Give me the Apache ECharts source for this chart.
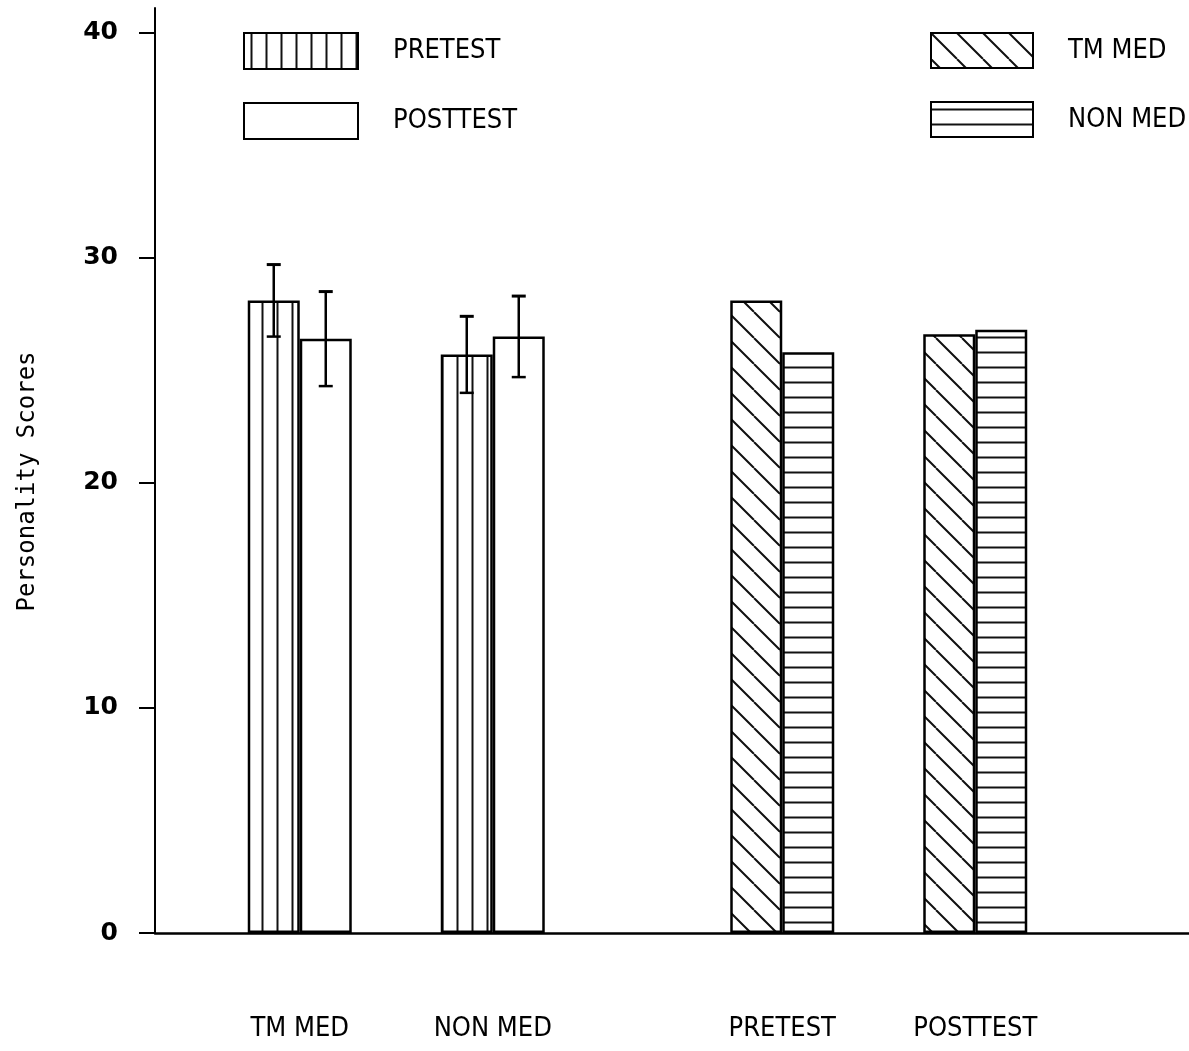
<!DOCTYPE html>
<html>
<head>
<meta charset="utf-8">
<script src="https://cdn.jsdelivr.net/npm/echarts@6/dist/echarts.min.js"></script>
<style>
html,body{margin:0;padding:0;background:#fff;}
#chart{width:1189px;height:1051px;}
</style>
</head>
<body>
<div id="chart"></div>
<script>
// ---- data ----
const slotLabels = ['', 'TM MED', '', 'NON MED', '', '', 'PRETEST', '', 'POSTTEST', '', ''];
const subjectGroups = ['TM MED', 'NON MED'];
const pretestScores = [28.1, 25.7];
const posttestScores = [26.4, 26.5];
const pretestErr = [1.6, 1.7];
const posttestErr = [2.1, 1.8];
const testGroups = ['PRETEST', 'POSTTEST'];
const tmMedScores = [28.1, 26.6];
const nonMedScores = [25.8, 26.8];
const yTicks = [0, 10, 20, 30, 40];

// ---- helpers ----
function fillSlots(groups, vals) {
  return slotLabels.map(n => { const i = groups.indexOf(n); return i >= 0 ? vals[i] : null; });
}
function errData(groups, vals, errs) {
  return groups.map((g, i) => [slotLabels.indexOf(g), vals[i] - errs[i], vals[i] + errs[i]]);
}
function makePattern(kind) {
  const c = document.createElement('canvas');
  let s;
  if (kind === 'vert') { s = 15; }
  else if (kind === 'horiz') { s = 15; }
  else { s = 26; }
  c.width = s; c.height = s;
  const ctx = c.getContext('2d');
  ctx.fillStyle = '#fff';
  ctx.fillRect(0, 0, s, s);
  ctx.strokeStyle = '#111';
  ctx.lineWidth = 2;
  ctx.beginPath();
  if (kind === 'vert') { ctx.moveTo(7.5, 0); ctx.lineTo(7.5, s); }
  else if (kind === 'horiz') { ctx.moveTo(0, 7.5); ctx.lineTo(s, 7.5); }
  else {
    for (const k of [-1, 0, 1]) { ctx.moveTo(k * s, 0); ctx.lineTo(k * s + s, s); }
  }
  ctx.stroke();
  return { image: c, repeat: 'repeat' };
}

const BAR_W = 52;
const textFont = 'DejaVu Sans Condensed';

function errRender(side) {
  return function (params, api) {
    const x = api.value(0);
    const lo = api.coord([x, api.value(1)]);
    const hi = api.coord([x, api.value(2)]);
    const cx = lo[0] + side * BAR_W / 2;
    const cap = 7;
    const st = { stroke: '#000', lineWidth: 2.5 };
    return {
      type: 'group',
      children: [
        { type: 'line', shape: { x1: cx, y1: lo[1], x2: cx, y2: hi[1] }, style: st },
        { type: 'line', shape: { x1: cx - cap, y1: hi[1], x2: cx + cap, y2: hi[1] }, style: { stroke: '#000', lineWidth: 3 } },
        { type: 'line', shape: { x1: cx - cap, y1: lo[1], x2: cx + cap, y2: lo[1] }, style: st }
      ]
    };
  };
}

const chart = echarts.init(document.getElementById('chart'), null, { renderer: 'canvas' });
const barBorder = { borderColor: '#000', borderWidth: 2.5 };
const legendText = { fontFamily: textFont, fontSize: 27, color: '#000', padding: [0, 0, 0, 30] };
const legendItem = { borderColor: '#000', borderWidth: 2 };

chart.setOption({
  backgroundColor: '#fff',
  animation: false,
  grid: { left: 155, top: 8, width: 1061.5, height: 925, outerBoundsMode: 'none', containLabel: false },
  legend: [
    { data: ['PRETEST', 'POSTTEST'], orient: 'vertical', left: 243, top: 32, padding: 0,
      itemWidth: 114, itemHeight: 36, itemGap: 32, icon: 'rect', selectedMode: false,
      itemStyle: legendItem, textStyle: legendText },
    { data: ['TM MED', 'NON MED'], orient: 'vertical', left: 930, top: 32, padding: 0,
      itemWidth: 102, itemHeight: 35, itemGap: 32, icon: 'rect', selectedMode: false,
      itemStyle: legendItem, textStyle: legendText }
  ],
  xAxis: [
    { type: 'category', data: slotLabels, boundaryGap: true,
      axisLine: { lineStyle: { color: '#000', width: 2.5 } },
      axisTick: { show: false },
      axisLabel: { interval: 0, margin: 82, fontFamily: textFont, fontSize: 27, color: '#000' } },
    { type: 'category', data: slotLabels, show: false }
  ],
  yAxis: {
    type: 'value', min: 0, max: 41.1,
    name: 'Personality Scores', nameLocation: 'middle', nameGap: 115,
    nameTextStyle: { fontFamily: 'DejaVu Sans Mono', fontSize: 24, color: '#000', padding: [0, 22, 0, 0] },
    axisLine: { show: true, lineStyle: { color: '#000', width: 2 } },
    axisTick: { show: true, customValues: yTicks, length: 16, lineStyle: { color: '#000', width: 2 } },
    axisLabel: { customValues: yTicks, margin: 37, fontFamily: 'DejaVu Sans', fontWeight: 'bold', fontSize: 25, color: '#000' },
    splitLine: { show: false }
  },
  series: [
    { name: 'PRETEST', type: 'bar', xAxisIndex: 0, barWidth: BAR_W, barGap: '0%',
      data: fillSlots(subjectGroups, pretestScores),
      itemStyle: Object.assign({ color: makePattern('vert') }, barBorder) },
    { name: 'POSTTEST', type: 'bar', xAxisIndex: 0, barWidth: BAR_W, barGap: '0%',
      data: fillSlots(subjectGroups, posttestScores),
      itemStyle: Object.assign({ color: '#fff' }, barBorder) },
    { name: 'TM MED', type: 'bar', xAxisIndex: 1, barWidth: BAR_W, barGap: '0%',
      data: fillSlots(testGroups, tmMedScores),
      itemStyle: Object.assign({ color: makePattern('diag') }, barBorder) },
    { name: 'NON MED', type: 'bar', xAxisIndex: 1, barWidth: BAR_W, barGap: '0%',
      data: fillSlots(testGroups, nonMedScores),
      itemStyle: Object.assign({ color: makePattern('horiz') }, barBorder) },
    { name: 'pre-err', type: 'custom', xAxisIndex: 0, renderItem: errRender(-1),
      data: errData(subjectGroups, pretestScores, pretestErr), z: 5 },
    { name: 'post-err', type: 'custom', xAxisIndex: 0, renderItem: errRender(1),
      data: errData(subjectGroups, posttestScores, posttestErr), z: 5 }
  ]
});
</script>
</body>
</html>
